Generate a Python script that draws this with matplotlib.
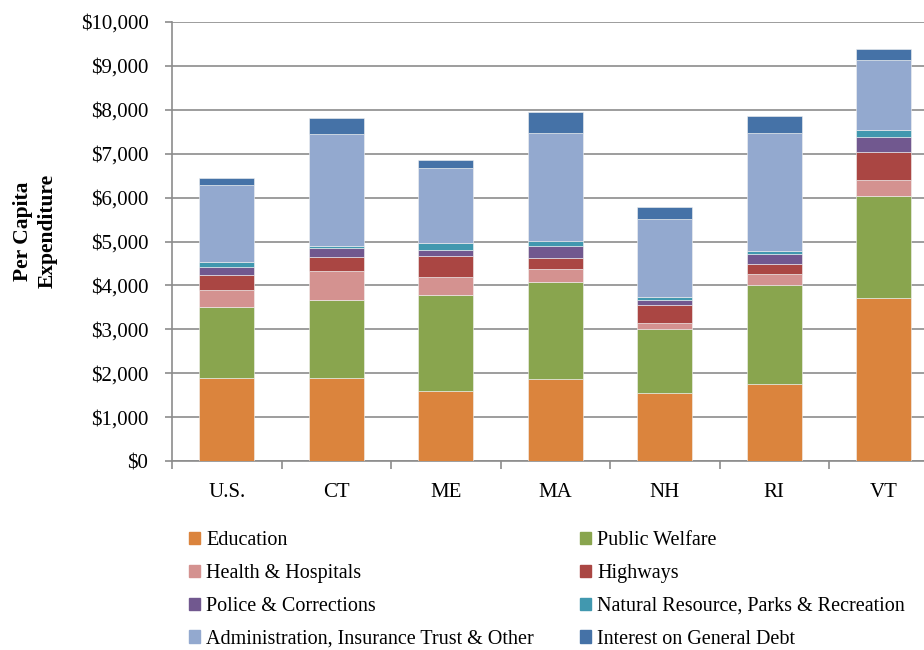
import numpy as np
import matplotlib
matplotlib.use("Agg")
import matplotlib.pyplot as plt
import matplotlib.patches as mpatches
from matplotlib.ticker import FuncFormatter, MultipleLocator

plt.rcParams.update({
    "font.family": ["Liberation Serif", "DejaVu Serif"],
    "font.size": 15,
})

# ── data (per capita $) ──────────────────────────────────────────────────────
STATES = ["U.S.", "CT", "ME", "MA", "NH", "RI", "VT"]
CATS = ["Education", "Public Welfare", "Health & Hospitals", "Highways",
        "Police & Corrections", "Natural Resource, Parks & Recreation",
        "Administration, Insurance Trust & Other", "Interest on General Debt"]

education   = [1900, 1900, 1595, 1860, 1556, 1750, 3710]
welfare     = [1610, 1770, 2185, 2220, 1454, 2260, 2330]
health      = [390, 660, 400, 290, 130, 240, 360]
highways    = [340, 310, 490, 260, 410, 230, 650]
police      = [190, 220, 140, 270, 120, 230, 340]
natural     = [110, 40, 160, 120, 70, 70, 160]
admin       = [1750, 2550, 1700, 2460, 1780, 2700, 1580]
interest    = [150, 360, 190, 480, 260, 380, 250]

SERIES = [education, welfare, health, highways, police, natural, admin, interest]
COLORS = ["#DB843D", "#89A54E", "#D49290", "#AA4643",
          "#71588F", "#4198AF", "#93A9CF", "#4572A7"]

fig = plt.figure(figsize=(9.24, 6.5), dpi=100, facecolor="white")
ax = fig.add_axes([172/924, 1 - 461/650, 766.5/924, 439/650])

x = np.arange(len(STATES))
bottom = np.zeros(len(STATES))
handles = []
for vals, col, lab in zip(SERIES, COLORS, CATS):
    ax.bar(x, vals, bottom=bottom, width=0.5, color=col,
           edgecolor="#F2F2F2", linewidth=0.4, zorder=3)
    bottom += np.array(vals)
    handles.append(mpatches.Patch(color=col, label=lab))

ax.set_xlim(-0.5, len(STATES) - 0.5)
ax.set_ylim(0, 10000)
ax.yaxis.set_major_locator(MultipleLocator(1000))
ax.yaxis.set_major_formatter(FuncFormatter(lambda v, _: f"${v:,.0f}"))
ax.grid(axis="y", color="#8C8C8C", linewidth=1.2, zorder=0)
ax.set_axisbelow(True)

for s in ("top", "right"):
    ax.spines[s].set_visible(False)
for s in ("left", "bottom"):
    ax.spines[s].set_color("#8C8C8C")
    ax.spines[s].set_linewidth(1.2)

ax.set_xticks(x)
ax.set_xticklabels(STATES)
ax.set_xticks(np.arange(len(STATES) + 1) - 0.5, minor=True)
ax.tick_params(axis="x", which="major", length=0, pad=16)
ax.tick_params(axis="x", which="minor", length=6, color="#8C8C8C", width=1.2)
ax.tick_params(axis="y", length=5, color="#8C8C8C", width=1.2, pad=12)

fig.text(0.038, 1 - 231/650, "Per Capita\nExpenditure", rotation=90,
         ha="center", va="center", fontweight="bold", fontsize=15.5,
         linespacing=1.3)

# legend: row-wise order across two columns
order = [0, 2, 4, 6, 1, 3, 5, 7]
fig.legend([handles[i] for i in order], [CATS[i] for i in order],
           ncol=2, loc="upper left", bbox_to_anchor=(189/924, 1 - 531/650),
           frameon=False, handlelength=0.55, handleheight=0.55,
           handletextpad=0.3, columnspacing=2.3, labelspacing=0.69,
           fontsize=14.5, borderaxespad=0, borderpad=0)

fig.savefig("out.png", dpi=100, facecolor="white")
